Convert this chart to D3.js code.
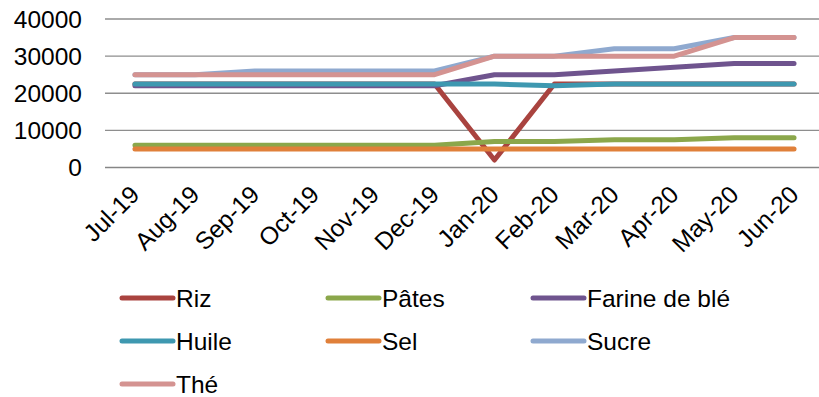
<!DOCTYPE html>
<html><head><meta charset="utf-8">
<script src="https://cdn.jsdelivr.net/npm/d3@7"></script>
<style>body{margin:0;background:#fff}svg{display:block}text{font-family:"Liberation Sans",Arial,sans-serif}</style>
</head><body>
<svg id="c" width="819" height="397"></svg>
<script>
const months = ["Jul-19","Aug-19","Sep-19","Oct-19","Nov-19","Dec-19","Jan-20","Feb-20","Mar-20","Apr-20","May-20","Jun-20"];
const yTicks = [0,10000,20000,30000,40000];
const seriesNames = ["Riz","Pâtes","Farine de blé","Huile","Sel","Sucre","Thé"];
const riz    = [22500,22500,22500,22500,22500,22500,2000,22500,22500,22500,22500,22500];
const pates  = [6000,6000,6000,6000,6000,6000,7000,7000,7500,7500,8000,8000];
const farine = [22000,22000,22000,22000,22000,22000,25000,25000,26000,27000,28000,28000];
const huile  = [22500,22500,22500,22500,22500,22500,22500,22000,22500,22500,22500,22500];
const sel    = [5000,5000,5000,5000,5000,5000,5000,5000,5000,5000,5000,5000];
const sucre  = [25000,25000,26000,26000,26000,26000,30000,30000,32000,32000,35000,35000];
const the    = [25000,25000,25000,25000,25000,25000,30000,30000,30000,30000,35000,35000];
const colors = ["#A9433F","#8BA74B","#6F548E","#3E98B0","#E0803A","#8FA9CF","#D49391"];

const series = [riz,pates,farine,huile,sel,sucre,the].map((v,i)=>({name:seriesNames[i],values:v,color:colors[i]}));

const svg = d3.select("#c");
const x = d3.scalePoint().domain(months).range([105,824]).padding(0.5);
const y = d3.scaleLinear().domain([0,40000]).range([167.5,19]);

// gridlines
svg.append("g").selectAll("line").data(yTicks).join("line")
  .attr("x1",105).attr("x2",819)
  .attr("y1",d=>y(d)).attr("y2",d=>y(d))
  .attr("stroke",d=>d===0?"#868686":"#8e8e8e").attr("stroke-width",d=>d===0?1.6:1.3);

// y labels
svg.append("g").selectAll("text").data(yTicks).join("text")
  .attr("x",82).attr("y",d=>y(d)).attr("dy","0.36em")
  .attr("text-anchor","end").attr("font-size",24.5).attr("fill","#000")
  .text(d=>d);

// x labels
svg.append("g").selectAll("text").data(months).join("text")
  .attr("transform",d=>`translate(${x(d)+6},${196}) rotate(-45)`)
  .attr("text-anchor","end").attr("font-size",24.5).attr("fill","#000")
  .text(d=>d);

// lines
const line = d3.line().x((d,i)=>x(months[i])).y(d=>y(d));
svg.append("g").selectAll("path").data(series).join("path")
  .attr("d",d=>line(d.values)).attr("fill","none")
  .attr("stroke",d=>d.color).attr("stroke-width",5)
  .attr("stroke-linecap","round").attr("stroke-linejoin","round");

// legend
const legX = [122,328,533], legY=[298,341,384];
const lg = svg.append("g").selectAll("g").data(series).join("g")
  .attr("transform",(d,i)=>`translate(${legX[i%3]},${legY[Math.floor(i/3)]})`);
lg.append("line").attr("x1",0).attr("x2",51).attr("y1",0).attr("y2",0)
  .attr("stroke",d=>d.color).attr("stroke-width",5).attr("stroke-linecap","round");
lg.append("text").attr("x",54).attr("y",0).attr("dy","0.36em")
  .attr("font-size",24.5).attr("fill","#000").text(d=>d.name);
</script>
</body></html>
